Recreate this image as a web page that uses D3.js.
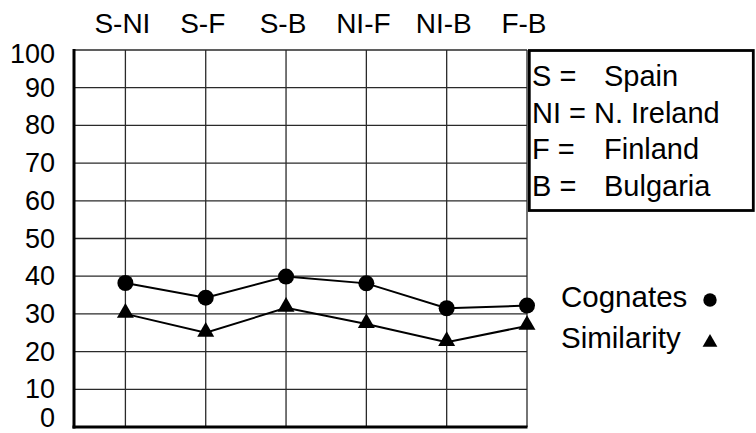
<!DOCTYPE html>
<html>
<head>
<meta charset="utf-8">
<script src="https://cdn.jsdelivr.net/npm/d3@7/dist/d3.min.js"></script>
<style>
  html, body { margin: 0; padding: 0; background: #fff; }
  svg { display: block; font-family: "Liberation Sans", Arial, sans-serif; }
</style>
</head>
<body>
<svg id="chart" width="756" height="433"></svg>
<script>
// ---- data ----
const categories = ["S-NI", "S-F", "S-B", "NI-F", "NI-B", "F-B"];
const cognates   = [38.2, 34.3, 39.9, 38.1, 31.5, 32.2];
const similarity = [30.0, 25.0, 31.6, 27.3, 22.5, 26.8];
const yTicks = [0, 10, 20, 30, 40, 50, 60, 70, 80, 90, 100];
const keyCodes = ["S =", "NI =", "F =", "B ="];
const keyNames = ["Spain", "N. Ireland", "Finland", "Bulgaria"];
const seriesNames = ["Cognates", "Similarity"];

// ---- layout ----
const svg = d3.select("#chart");
const L = 74, R = 527, T = 50, B = 427;

const x = d3.scalePoint().domain(categories).range([L, R]).padding(0.32).align(1);
const y = d3.scaleLinear().domain([0, 100]).range([B, T]);

// horizontal grid
svg.append("g").selectAll("line").data(yTicks).join("line")
  .attr("x1", L).attr("x2", R)
  .attr("y1", d => y(d)).attr("y2", d => y(d))
  .attr("stroke", "#2a2a2a").attr("stroke-width", 1.3);

// vertical grid
svg.append("g").selectAll("line").data(categories).join("line")
  .attr("x1", d => x(d)).attr("x2", d => x(d))
  .attr("y1", T).attr("y2", B)
  .attr("stroke", "#2a2a2a").attr("stroke-width", 1.3);

// thick left & bottom axes
svg.append("line").attr("x1", L).attr("x2", L).attr("y1", T - 1).attr("y2", B + 1.5)
  .attr("stroke", "#000").attr("stroke-width", 3);
svg.append("line").attr("x1", L - 1.5).attr("x2", R + 0.5).attr("y1", B).attr("y2", B)
  .attr("stroke", "#000").attr("stroke-width", 3);

// y tick labels
svg.append("g").selectAll("text").data(yTicks).join("text")
  .attr("x", 55)
  .attr("y", d => Math.min(Math.max(y(d), 54), 418))
  .attr("text-anchor", "end")
  .attr("dominant-baseline", "central")
  .attr("font-size", 27)
  .text(d => d);

// top category labels
svg.append("g").selectAll("text").data(categories).join("text")
  .attr("x", d => x(d) - 3)
  .attr("y", 33)
  .attr("text-anchor", "middle")
  .attr("font-size", 28)
  .text(d => d);

// lines
const line = d3.line().x((d, i) => x(categories[i])).y(d => y(d));
[cognates, similarity].forEach(s => {
  svg.append("path").attr("d", line(s))
    .attr("fill", "none").attr("stroke", "#000").attr("stroke-width", 2);
});

// markers
const circleSym = d3.symbol().type(d3.symbolCircle).size(Math.PI * 8 * 8);
const triSym = d3.symbol().type(d3.symbolTriangle).size(125);
svg.append("g").selectAll("path").data(cognates).join("path")
  .attr("transform", (d, i) => `translate(${x(categories[i])},${y(d)})`)
  .attr("d", circleSym).attr("fill", "#000");
svg.append("g").selectAll("path").data(similarity).join("path")
  .attr("transform", (d, i) => `translate(${x(categories[i])},${y(d) - 1})`)
  .attr("d", triSym).attr("fill", "#000");

// key box
svg.append("rect").attr("x", 529.3).attr("y", 50.5).attr("width", 224).attr("height", 160)
  .attr("fill", "#fff").attr("stroke", "#000").attr("stroke-width", 2.8);
const keyG = svg.append("g");
keyCodes.forEach((c, i) => {
  const by = 86 + i * 36.7;
  const t = keyG.append("text").attr("x", 532).attr("y", by).attr("font-size", 29).text(c);
  const w = t.node().getComputedTextLength();
  const nx = c.length > 3 ? 532 + w + 8 : 604;
  keyG.append("text").attr("x", nx).attr("y", by).attr("font-size", 29).text(keyNames[i]);
});

// series legend
const legY = [307, 348];
seriesNames.forEach((n, i) => {
  svg.append("text").attr("x", 561).attr("y", legY[i]).attr("font-size", 29.5).text(n);
});
svg.append("path").attr("transform", "translate(710,300)")
  .attr("d", d3.symbol().type(d3.symbolCircle).size(Math.PI * 6.7 * 6.7)).attr("fill", "#000");
svg.append("path").attr("transform", "translate(710,342.5)")
  .attr("d", d3.symbol().type(d3.symbolTriangle).size(95)).attr("fill", "#000");
</script>
</body>
</html>
